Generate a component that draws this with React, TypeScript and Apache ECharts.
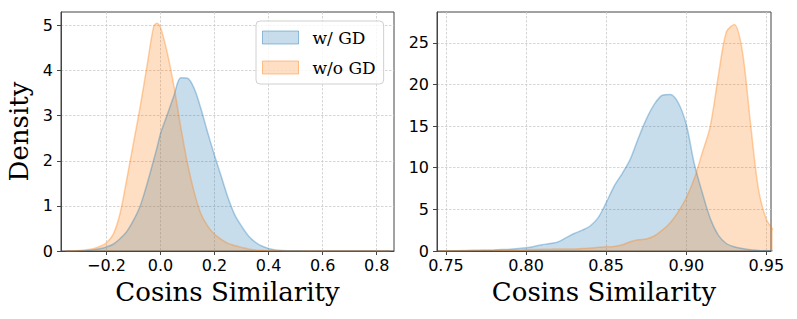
import React, { useEffect, useRef } from "react";
import * as echarts from "echarts";

// ---- Left panel data (x = cosine similarity, y = density) ----
const leftX = [
  -0.35, -0.325, -0.3, -0.275, -0.25, -0.225, -0.2, -0.175, -0.15, -0.125, -0.1, -0.075, -0.05, -0.025,
  -0.0125, 0.0, 0.025, 0.05, 0.075, 0.1, 0.125, 0.15, 0.175, 0.2, 0.225, 0.25, 0.275, 0.3, 0.325, 0.35,
  0.375, 0.4, 0.425, 0.45, 0.5, 0.55, 0.6, 0.7, 0.8, 0.85,
];
const leftWithGD = [
  0, 0.002, 0.006, 0.012, 0.025, 0.05, 0.09, 0.15, 0.27, 0.43, 0.68, 1.0, 1.48, 2.02,
  2.3, 2.6, 3.02, 3.45, 3.84, 3.83, 3.6, 3.15, 2.62, 2.12, 1.65, 1.18, 0.8, 0.55, 0.34, 0.2,
  0.11, 0.055, 0.025, 0.012, 0.003, 0.001, 0, 0, 0, 0,
];
const leftWithoutGD = [
  0, 0.003, 0.01, 0.025, 0.05, 0.1, 0.18, 0.37, 0.82, 1.58, 2.39, 3.2, 4.1, 4.98,
  5.05, 4.96, 4.4, 3.65, 2.75, 1.94, 1.3, 0.82, 0.55, 0.37, 0.26, 0.17, 0.12, 0.08, 0.045, 0.025,
  0.015, 0.008, 0.004, 0.002, 0, 0, 0, 0, 0, 0,
];

// ---- Right panel data ----
const rightX = [
  0.745, 0.75, 0.755, 0.76, 0.765, 0.77, 0.775, 0.78, 0.785, 0.79, 0.795, 0.8, 0.805, 0.81, 0.815,
  0.82, 0.825, 0.83, 0.835, 0.84, 0.845, 0.85, 0.855, 0.86, 0.865, 0.87, 0.875, 0.88, 0.885, 0.89,
  0.895, 0.9, 0.905, 0.91, 0.915, 0.92, 0.925, 0.93, 0.935, 0.94, 0.945, 0.95, 0.955,
];
const rightWithGD = [
  0, 0.01, 0.02, 0.03, 0.05, 0.07, 0.09, 0.12, 0.17, 0.22, 0.3, 0.4, 0.55, 0.75, 0.9,
  1.1, 1.6, 2.1, 2.5, 3.0, 4.0, 5.8, 7.8, 9.3, 11.0, 13.5, 15.8, 17.6, 18.7, 18.8,
  17.8, 15.2, 10.5, 7.0, 3.9, 1.9, 0.9, 0.5, 0.3, 0.15, 0.07, 0.03, 0.01,
];
const rightWithoutGD = [
  0, 0.02, 0.03, 0.05, 0.07, 0.08, 0.09, 0.1, 0.1, 0.1, 0.12, 0.15, 0.18, 0.2, 0.22,
  0.25, 0.25, 0.25, 0.3, 0.35, 0.45, 0.5, 0.55, 0.75, 1.1, 1.35, 1.45, 1.8, 2.5, 3.4,
  4.7, 6.4, 8.7, 11.8, 15.0, 21.0, 26.3, 27.2, 24.0, 15.5, 7.5, 3.8, 2.4,
];

// ---- Ticks ----
const leftXTicks = [-0.2, 0.0, 0.2, 0.4, 0.6, 0.8];
const leftYTicks = [0, 1, 2, 3, 4, 5];
const rightXTicks = [0.75, 0.8, 0.85, 0.9, 0.95];
const rightYTicks = [0, 5, 10, 15, 20, 25];

const seriesNames = ["w/ GD", "w/o GD"];
const xTitle = "Cosins Similarity";
const yTitle = "Density";

const BLUE = "#1f77b4";
const ORANGE = "#ff7f0e";

const zip = (xs: number[], ys: number[]) => xs.map((x, i) => [x, ys[i]]);

const fmtLeft = (v: number) => (v < 0 ? "\u2212" + Math.abs(v).toFixed(1) : v.toFixed(1));

export default function App() {
  const ref = useRef<HTMLDivElement>(null);
  useEffect(() => {
    if (!ref.current) return;
    const chart = echarts.init(ref.current, undefined, { renderer: "svg" });
    const tickFont = { fontFamily: "DejaVu Sans", fontSize: 16, color: "#000" };
    const titleFont = { fontFamily: "DejaVu Serif", fontSize: 26, color: "#000" };
    const splitLine = {
      show: true,
      lineStyle: { color: "#cacaca", type: [2.5, 1.5] as any, width: 0.8 },
    };
    const axisLine = { show: true, onZero: false, lineStyle: { color: "#444", width: 1 } };
    const axisTick = (vals: number[]) => ({
      show: true,
      inside: false,
      length: 4,
      lineStyle: { color: "#444", width: 1 },
      customValues: vals,
    });
    const mkSeries = (
      name: string,
      data: number[][],
      color: string,
      idx: number
    ) => ({
      type: "line",
      name,
      data,
      xAxisIndex: idx,
      yAxisIndex: idx,
      showSymbol: false,
      symbol: "none",
      smooth: 0.3,
      lineStyle: { color, width: 1.5, opacity: 0.35 },
      itemStyle: { color },
      areaStyle: { color, opacity: 0.25 },
    });
    chart.setOption({
      animation: false,
      grid: [
        { left: 61, top: 12, width: 333, height: 239, show: true, borderColor: "#444", borderWidth: 1, backgroundColor: "transparent" },
        { left: 437, top: 12, width: 334, height: 239, show: true, borderColor: "#444", borderWidth: 1, backgroundColor: "transparent" },
      ],
      xAxis: [
        {
          type: "value",
          gridIndex: 0,
          min: -0.368,
          max: 0.864,
          axisLine,
          axisTick: axisTick(leftXTicks),
          axisLabel: { ...tickFont, margin: 6, customValues: leftXTicks, formatter: fmtLeft },
          splitLine,
          name: xTitle,
          nameLocation: "middle",
          nameGap: 28,
          nameTextStyle: titleFont,
        },
        {
          type: "value",
          gridIndex: 1,
          min: 0.7444,
          max: 0.9529,
          axisLine,
          axisTick: axisTick(rightXTicks),
          axisLabel: { ...tickFont, margin: 6, customValues: rightXTicks, formatter: (v: number) => v.toFixed(2) },
          splitLine,
          name: xTitle,
          nameLocation: "middle",
          nameGap: 28,
          nameTextStyle: titleFont,
        },
      ],
      yAxis: [
        {
          type: "value",
          gridIndex: 0,
          min: 0,
          max: 5.3,
          axisLine,
          axisTick: axisTick(leftYTicks),
          axisLabel: { ...tickFont, margin: 8, customValues: leftYTicks, formatter: (v: number) => String(v) },
          splitLine,
          name: yTitle,
          nameLocation: "middle",
          nameGap: 29,
          nameTextStyle: titleFont,
        },
        {
          type: "value",
          gridIndex: 1,
          min: 0,
          max: 28.7,
          axisLine,
          axisTick: axisTick(rightYTicks),
          axisLabel: { ...tickFont, margin: 8, customValues: rightYTicks, formatter: (v: number) => String(v) },
          splitLine,
        },
      ],
      legend: {
        left: 256,
        top: 21,
        orient: "vertical",
        icon: "rect",
        itemWidth: 36,
        itemHeight: 13,
        itemGap: 13,
        padding: [8, 8, 8, 6],
        backgroundColor: "rgba(255,255,255,0.8)",
        borderColor: "#d0d0d0",
        borderWidth: 1,
        borderRadius: 4,
        textStyle: { fontFamily: "DejaVu Serif", fontSize: 17, color: "#000", padding: [0, 0, 0, 9] },
        data: [
          { name: seriesNames[0], itemStyle: { color: "rgba(31,119,180,0.25)", borderColor: "rgba(31,119,180,0.45)", borderWidth: 1 } },
          { name: seriesNames[1], itemStyle: { color: "rgba(255,127,14,0.25)", borderColor: "rgba(255,127,14,0.45)", borderWidth: 1 } },
        ],
      },
      series: [
        mkSeries(seriesNames[0], zip(leftX, leftWithGD), BLUE, 0),
        mkSeries(seriesNames[1], zip(leftX, leftWithoutGD), ORANGE, 0),
        { ...mkSeries(seriesNames[0], zip(rightX, rightWithGD), BLUE, 1), name: "r1" },
        { ...mkSeries(seriesNames[1], zip(rightX, rightWithoutGD), ORANGE, 1), name: "r2" },
      ],
    });
    return () => chart.dispose();
  }, []);
  return (
    <div
      ref={ref}
      style={{ position: "absolute", left: 0, top: 0, width: 797, height: 319, background: "#fff" }}
    />
  );
}
